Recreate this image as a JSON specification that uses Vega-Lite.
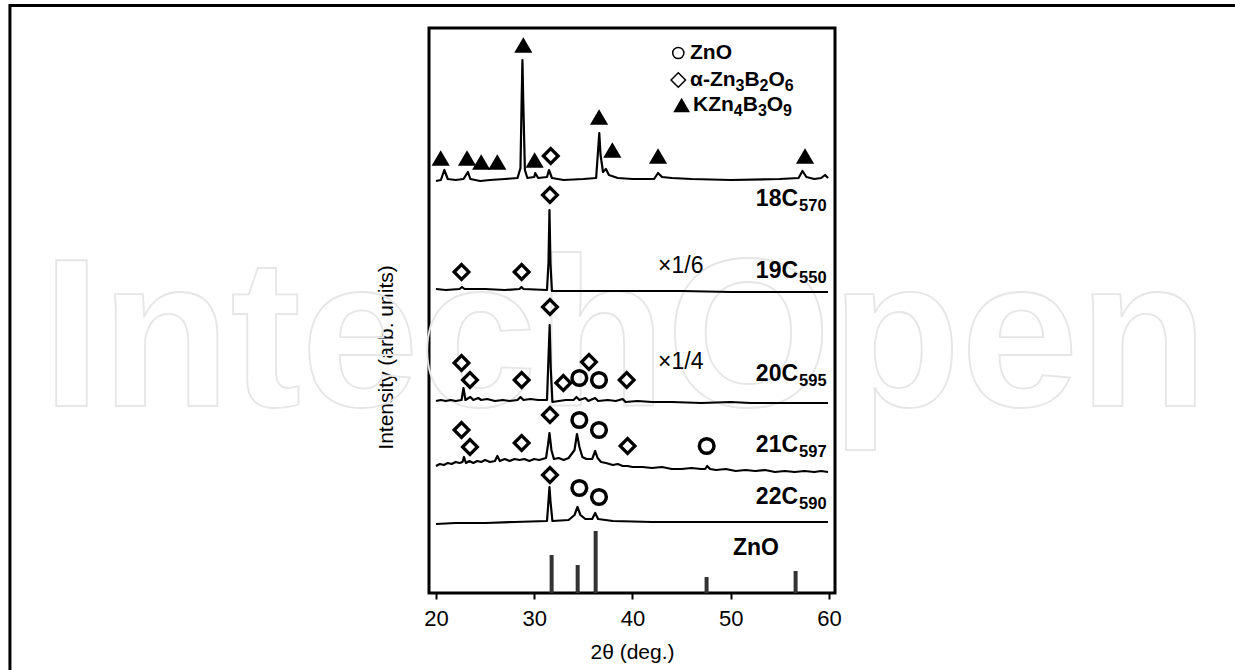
{
  "$schema": "https://vega.github.io/schema/vega-lite/v6.json",
  "width": 406,
  "height": 565,
  "autosize": {"type": "none"},
  "padding": {"left": 429, "top": 28, "right": 400, "bottom": 77},
  "background": "white",
  "config": {
    "view": {"stroke": "black", "strokeWidth": 3},
    "font": "Liberation Sans",
    "axisX": {"domain": false, "grid": false, "tickColor": "black", "tickWidth": 2, "tickSize": 6, "labelFontSize": 22, "labelColor": "black", "labelPadding": 9, "labelFlush": false, "labelFont": "Liberation Sans", "titleFont": "Liberation Sans", "titleFontSize": 21, "titleFontWeight": "normal", "titleColor": "black", "titlePadding": 12},
    "axisY": {"domain": false, "grid": false, "ticks": false, "labels": false, "titleFont": "Liberation Sans", "titleFontSize": 21, "titleFontWeight": "normal", "titleColor": "black", "titlePadding": 33, "titleY": 329}
  },
  "datasets": {
    "wm": [{"w": "IntechOpen", "t": 39.24, "v": 187}],
    "frame": [{"t": -23.36, "t2": 103, "v": 587.5, "v2": -90}],
    "traces": [
      {"s":"18","t":20.0,"v":412},{"s":"18","t":20.5,"v":413},{"s":"18","t":20.85,"v":423},{"s":"18","t":21.2,"v":414},{"s":"18","t":22,"v":413},{"s":"18","t":22.8,"v":414},{"s":"18","t":23.25,"v":421},{"s":"18","t":23.5,"v":414},{"s":"18","t":24.5,"v":412},{"s":"18","t":25.5,"v":413},{"s":"18","t":27,"v":414},{"s":"18","t":28.3,"v":415},{"s":"18","t":28.6,"v":425},{"s":"18","t":28.72,"v":493},{"s":"18","t":28.8,"v":533},{"s":"18","t":28.88,"v":493},{"s":"18","t":29.05,"v":423},{"s":"18","t":29.3,"v":415},{"s":"18","t":30.0,"v":416},{"s":"18","t":30.1,"v":420},{"s":"18","t":30.4,"v":415},{"s":"18","t":31.3,"v":416},{"s":"18","t":31.5,"v":423},{"s":"18","t":31.8,"v":415},{"s":"18","t":33,"v":413},{"s":"18","t":35,"v":414},{"s":"18","t":36.3,"v":415},{"s":"18","t":36.5,"v":443},{"s":"18","t":36.62,"v":460},{"s":"18","t":36.75,"v":438},{"s":"18","t":37.0,"v":421},{"s":"18","t":37.3,"v":424},{"s":"18","t":37.6,"v":418},{"s":"18","t":38.5,"v":415},{"s":"18","t":40,"v":414},{"s":"18","t":42.2,"v":414},{"s":"18","t":42.6,"v":420},{"s":"18","t":43,"v":416},{"s":"18","t":44,"v":415},{"s":"18","t":46,"v":414},{"s":"18","t":50,"v":413},{"s":"18","t":55,"v":414},{"s":"18","t":56.9,"v":415},{"s":"18","t":57.3,"v":422},{"s":"18","t":57.7,"v":416},{"s":"18","t":58.5,"v":414},{"s":"18","t":59.2,"v":415},{"s":"18","t":59.6,"v":418},{"s":"18","t":59.9,"v":415},
      {"s":"19","t":20.0,"v":304},{"s":"19","t":21,"v":303},{"s":"19","t":22.4,"v":304},{"s":"19","t":22.65,"v":306},{"s":"19","t":22.9,"v":304},{"s":"19","t":25,"v":304},{"s":"19","t":27,"v":303},{"s":"19","t":28.5,"v":304},{"s":"19","t":28.7,"v":306},{"s":"19","t":28.9,"v":304},{"s":"19","t":31.3,"v":303},{"s":"19","t":31.45,"v":330},{"s":"19","t":31.55,"v":383},{"s":"19","t":31.65,"v":330},{"s":"19","t":31.8,"v":302},{"s":"19","t":34,"v":302},{"s":"19","t":37,"v":302},{"s":"19","t":40,"v":302},{"s":"19","t":45,"v":302},{"s":"19","t":50,"v":301},{"s":"19","t":55,"v":301},{"s":"19","t":59.9,"v":301},
      {"s":"20","t":20.0,"v":192},{"s":"20","t":20.5,"v":193},{"s":"20","t":21.0,"v":192},{"s":"20","t":21.5,"v":193},{"s":"20","t":22.0,"v":192},{"s":"20","t":22.6,"v":193},{"s":"20","t":22.8,"v":205},{"s":"20","t":23.0,"v":193},{"s":"20","t":23.5,"v":196},{"s":"20","t":23.8,"v":193},{"s":"20","t":24.3,"v":195},{"s":"20","t":24.6,"v":193},{"s":"20","t":25.2,"v":194},{"s":"20","t":26,"v":192},{"s":"20","t":26.8,"v":193},{"s":"20","t":27.5,"v":192},{"s":"20","t":28.3,"v":193},{"s":"20","t":28.6,"v":196},{"s":"20","t":28.9,"v":193},{"s":"20","t":29.6,"v":194},{"s":"20","t":30.4,"v":193},{"s":"20","t":31.3,"v":193},{"s":"20","t":31.45,"v":235},{"s":"20","t":31.57,"v":268},{"s":"20","t":31.68,"v":225},{"s":"20","t":31.85,"v":191},{"s":"20","t":32.5,"v":192},{"s":"20","t":33.2,"v":193},{"s":"20","t":34.0,"v":193},{"s":"20","t":34.3,"v":196},{"s":"20","t":34.6,"v":193},{"s":"20","t":35.2,"v":195},{"s":"20","t":35.5,"v":192},{"s":"20","t":36.2,"v":195},{"s":"20","t":36.5,"v":192},{"s":"20","t":37.5,"v":193},{"s":"20","t":38.3,"v":192},{"s":"20","t":39.0,"v":194},{"s":"20","t":39.3,"v":191},{"s":"20","t":40.5,"v":192},{"s":"20","t":42,"v":191},{"s":"20","t":44,"v":191},{"s":"20","t":47,"v":190},{"s":"20","t":50,"v":191},{"s":"20","t":52,"v":190},{"s":"20","t":55,"v":190},{"s":"20","t":57.5,"v":190},{"s":"20","t":59.9,"v":190},
      {"s":"21","t":20.0,"v":127},{"s":"21","t":20.4,"v":129},{"s":"21","t":20.8,"v":128},{"s":"21","t":21.2,"v":130},{"s":"21","t":21.6,"v":129},{"s":"21","t":22.0,"v":131},{"s":"21","t":22.4,"v":130},{"s":"21","t":22.7,"v":131},{"s":"21","t":22.85,"v":136},{"s":"21","t":23.05,"v":130},{"s":"21","t":23.4,"v":132},{"s":"21","t":23.8,"v":130},{"s":"21","t":24.2,"v":132},{"s":"21","t":24.6,"v":131},{"s":"21","t":25.0,"v":133},{"s":"21","t":25.5,"v":131},{"s":"21","t":26.0,"v":132},{"s":"21","t":26.25,"v":137},{"s":"21","t":26.5,"v":132},{"s":"21","t":27.0,"v":134},{"s":"21","t":27.5,"v":132},{"s":"21","t":28.0,"v":134},{"s":"21","t":28.5,"v":133},{"s":"21","t":29.0,"v":134},{"s":"21","t":29.5,"v":132},{"s":"21","t":30.0,"v":134},{"s":"21","t":30.5,"v":133},{"s":"21","t":31.2,"v":135},{"s":"21","t":31.4,"v":148},{"s":"21","t":31.55,"v":160},{"s":"21","t":31.75,"v":143},{"s":"21","t":32.0,"v":134},{"s":"21","t":32.5,"v":135},{"s":"21","t":33.0,"v":133},{"s":"21","t":33.5,"v":135},{"s":"21","t":34.1,"v":143},{"s":"21","t":34.35,"v":159},{"s":"21","t":34.6,"v":146},{"s":"21","t":34.9,"v":136},{"s":"21","t":35.3,"v":134},{"s":"21","t":35.9,"v":134},{"s":"21","t":36.2,"v":142},{"s":"21","t":36.45,"v":135},{"s":"21","t":36.8,"v":131},{"s":"21","t":37.3,"v":130},{"s":"21","t":38.0,"v":128},{"s":"21","t":38.5,"v":129},{"s":"21","t":39.0,"v":127},{"s":"21","t":39.5,"v":127},{"s":"21","t":40,"v":126},{"s":"21","t":41,"v":126},{"s":"21","t":42,"v":125},{"s":"21","t":43,"v":126},{"s":"21","t":44,"v":124},{"s":"21","t":45,"v":124},{"s":"21","t":46,"v":125},{"s":"21","t":47.0,"v":124},{"s":"21","t":47.4,"v":124},{"s":"21","t":47.6,"v":127},{"s":"21","t":47.9,"v":124},{"s":"21","t":48.5,"v":123},{"s":"21","t":49.5,"v":124},{"s":"21","t":50.5,"v":122},{"s":"21","t":51.5,"v":123},{"s":"21","t":52.5,"v":122},{"s":"21","t":53.5,"v":123},{"s":"21","t":54.5,"v":121},{"s":"21","t":55.5,"v":122},{"s":"21","t":56.5,"v":121},{"s":"21","t":57.5,"v":122},{"s":"21","t":58.5,"v":121},{"s":"21","t":59.2,"v":122},{"s":"21","t":59.9,"v":121},
      {"s":"22","t":20.0,"v":69},{"s":"22","t":22,"v":70},{"s":"22","t":25,"v":70},{"s":"22","t":28,"v":71},{"s":"22","t":31.3,"v":72},{"s":"22","t":31.45,"v":92},{"s":"22","t":31.55,"v":106},{"s":"22","t":31.65,"v":92},{"s":"22","t":31.85,"v":72},{"s":"22","t":33.5,"v":73},{"s":"22","t":34.1,"v":78},{"s":"22","t":34.4,"v":86},{"s":"22","t":34.7,"v":78},{"s":"22","t":35.2,"v":74},{"s":"22","t":35.9,"v":74},{"s":"22","t":36.2,"v":80},{"s":"22","t":36.5,"v":74},{"s":"22","t":38,"v":72},{"s":"22","t":42,"v":71},{"s":"22","t":45,"v":71},{"s":"22","t":50,"v":71},{"s":"22","t":55,"v":71},{"s":"22","t":59.9,"v":71}
    ],
    "sticks": [
      {"t":31.77,"v":38},{"t":34.42,"v":28},{"t":36.25,"v":62},{"t":47.54,"v":16},{"t":56.6,"v":22}
    ],
    "markers": [
      {"s":"18","phase":"K","t":20.48,"v":435},{"s":"18","phase":"K","t":23.16,"v":435},{"s":"18","phase":"K","t":24.6,"v":431},{"s":"18","phase":"K","t":26.24,"v":431},{"s":"18","phase":"K","t":28.89,"v":548},{"s":"18","phase":"K","t":30.04,"v":433},{"s":"18","phase":"K","t":36.6,"v":476},{"s":"18","phase":"K","t":37.95,"v":443},{"s":"18","phase":"K","t":42.6,"v":437},{"s":"18","phase":"K","t":57.56,"v":437},
      {"s":"18","phase":"D","t":31.68,"v":437},
      {"s":"19","phase":"D","t":22.6,"v":321},{"s":"19","phase":"D","t":28.72,"v":321},{"s":"19","phase":"D","t":31.6,"v":398},
      {"s":"20","phase":"D","t":31.6,"v":286},{"s":"20","phase":"D","t":22.6,"v":230},{"s":"20","phase":"D","t":23.46,"v":213},{"s":"20","phase":"D","t":28.72,"v":213},{"s":"20","phase":"D","t":32.96,"v":210},{"s":"20","phase":"D","t":35.57,"v":231},{"s":"20","phase":"D","t":39.41,"v":213},
      {"s":"20","phase":"Z","t":34.59,"v":215},{"s":"20","phase":"Z","t":36.59,"v":213},
      {"s":"21","phase":"D","t":22.6,"v":163},{"s":"21","phase":"D","t":23.46,"v":146},{"s":"21","phase":"D","t":28.72,"v":150},{"s":"21","phase":"D","t":31.6,"v":178},{"s":"21","phase":"D","t":39.5,"v":147},
      {"s":"21","phase":"Z","t":34.59,"v":173},{"s":"21","phase":"Z","t":36.59,"v":163},{"s":"21","phase":"Z","t":47.55,"v":147},
      {"s":"22","phase":"D","t":31.6,"v":118},{"s":"22","phase":"Z","t":34.59,"v":105},{"s":"22","phase":"Z","t":36.59,"v":96}
    ],
    "legend": [
      {"phase":"Z","t":44.66,"v":540},
      {"phase":"D","t":44.66,"v":513},
      {"phase":"K","t":45.0,"v":488}
    ],
    "legendMain": [
      {"txt":"ZnO","t":45.853,"v":540},
      {"txt":"α-Zn","t":45.853,"v":513},{"txt":"B","t":51.39,"v":513},{"txt":"O","t":53.843,"v":513},
      {"txt":"KZn","t":46.158,"v":488},{"txt":"B","t":51.216,"v":488},{"txt":"O","t":53.669,"v":488}
    ],
    "legendSub": [
      {"txt":"3","t":50.484,"v":513},{"txt":"2","t":52.937,"v":513},{"txt":"6","t":55.502,"v":513},
      {"txt":"4","t":50.31,"v":488},{"txt":"3","t":52.763,"v":488},{"txt":"9","t":55.328,"v":488}
    ],
    "labels": [
      {"main":"18C","sub":"570","t":56.85,"v":394},
      {"main":"19C","sub":"550","t":56.85,"v":322},
      {"main":"20C","sub":"595","t":56.85,"v":219},
      {"main":"21C","sub":"597","t":56.85,"v":148},
      {"main":"22C","sub":"590","t":56.85,"v":96},
      {"main":"ZnO","sub":"","t":54.9,"v":45}
    ],
    "factors": [
      {"txt":"×1/6","t":42.6,"v":327},
      {"txt":"×1/4","t":42.6,"v":231}
    ]
  },
  "encoding": {
    "x": {"field": "t", "type": "quantitative", "scale": {"domain": [19.29, 60.61], "nice": false, "zero": false}, "axis": {"values": [20, 30, 40, 50, 60], "title": "2θ (deg.)"}},
    "y": {"field": "v", "type": "quantitative", "scale": {"domain": [0, 565], "nice": false, "zero": false}, "axis": {"title": "Intensity (arb. units)"}}
  },
  "layer": [
    {
      "data": {"name": "wm"},
      "mark": {"type": "text", "font": "Liberation Sans", "fontSize": 212, "fontWeight": "bold", "align": "center", "baseline": "alphabetic", "fill": "transparent", "stroke": "#e6e6e6", "strokeWidth": 1.8},
      "encoding": {"text": {"field": "w"}}
    },
    {
      "data": {"name": "frame"},
      "mark": {"type": "rect", "fill": "transparent", "stroke": "black", "strokeWidth": 3},
      "encoding": {"x2": {"field": "t2"}, "y2": {"field": "v2"}}
    },
    {
      "data": {"name": "sticks"},
      "mark": {"type": "rule", "color": "#333333", "strokeWidth": 4},
      "encoding": {"y2": {"datum": 0}}
    },
    {
      "data": {"name": "traces"},
      "mark": {"type": "line", "color": "black", "strokeWidth": 2.2, "strokeJoin": "round"},
      "encoding": {"detail": {"field": "s"}}
    },
    {
      "data": {"name": "markers"},
      "transform": [{"filter": "datum.phase === 'K'"}],
      "mark": {"type": "point", "shape": "triangle-up", "filled": true, "color": "black", "size": 330, "opacity": 1}
    },
    {
      "data": {"name": "markers"},
      "transform": [{"filter": "datum.phase === 'D'"}],
      "mark": {"type": "point", "shape": "diamond", "filled": false, "color": "black", "size": 220, "strokeWidth": 3.2, "opacity": 1}
    },
    {
      "data": {"name": "markers"},
      "transform": [{"filter": "datum.phase === 'Z'"}],
      "mark": {"type": "point", "shape": "circle", "filled": false, "color": "black", "size": 215, "strokeWidth": 3.5, "opacity": 1}
    },
    {
      "data": {"name": "legend"},
      "transform": [{"filter": "datum.phase === 'Z'"}],
      "mark": {"type": "point", "shape": "circle", "filled": false, "color": "black", "size": 125, "strokeWidth": 1.5, "opacity": 1}
    },
    {
      "data": {"name": "legend"},
      "transform": [{"filter": "datum.phase === 'D'"}],
      "mark": {"type": "point", "shape": "diamond", "filled": false, "color": "black", "size": 210, "strokeWidth": 1.5, "opacity": 1}
    },
    {
      "data": {"name": "legend"},
      "transform": [{"filter": "datum.phase === 'K'"}],
      "mark": {"type": "point", "shape": "triangle-up", "filled": true, "color": "black", "size": 280, "opacity": 1}
    },
    {
      "data": {"name": "legendMain"},
      "mark": {"type": "text", "align": "left", "baseline": "middle", "fontSize": 21, "fontWeight": "bold", "font": "Liberation Sans", "color": "black"},
      "encoding": {"text": {"field": "txt"}}
    },
    {
      "data": {"name": "legendSub"},
      "mark": {"type": "text", "align": "left", "baseline": "middle", "dy": 6, "fontSize": 16, "fontWeight": "bold", "font": "Liberation Sans", "color": "black"},
      "encoding": {"text": {"field": "txt"}}
    },
    {
      "data": {"name": "labels"},
      "mark": {"type": "text", "align": "right", "baseline": "middle", "fontSize": 23, "fontWeight": "bold", "font": "Liberation Sans", "color": "black"},
      "encoding": {"text": {"field": "main"}}
    },
    {
      "data": {"name": "labels"},
      "mark": {"type": "text", "align": "left", "baseline": "middle", "dx": 1, "dy": 7, "fontSize": 16.5, "fontWeight": "bold", "font": "Liberation Sans", "color": "black"},
      "encoding": {"text": {"field": "sub"}}
    },
    {
      "data": {"name": "factors"},
      "mark": {"type": "text", "align": "left", "baseline": "middle", "fontSize": 23, "font": "Liberation Sans", "color": "black"},
      "encoding": {"text": {"field": "txt"}}
    }
  ]
}
